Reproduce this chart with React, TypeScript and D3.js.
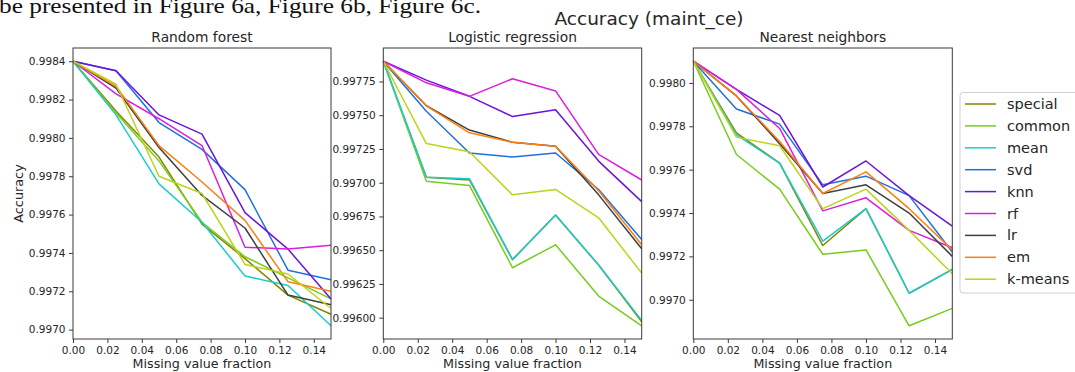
import { useRef, useEffect } from "react";
import * as d3 from "d3";

// x positions (missing value fraction) shared by all three panels
const X_FRACTIONS = [0, 0.025, 0.05, 0.075, 0.1, 0.125, 0.15];
const X_TICKS = [0, 0.02, 0.04, 0.06, 0.08, 0.1, 0.12, 0.14];

const METHODS = ["special", "common", "mean", "svd", "knn", "rf", "lr", "em", "k-means"];
const COLORS = ["#858500", "#78cc1c", "#1ccccc", "#1f6fe0", "#6a14dc", "#dc1edc", "#3f3f3f", "#ff7f0e", "#bed21c"];

// Random forest, one row per method (same order as METHODS)
const RF_VALUES = [
  [0.9984, 0.99814, 0.9979, 0.99755, 0.99737, 0.99718, 0.99708],
  [0.9984, 0.99813, 0.99788, 0.99756, 0.99738, 0.99727, 0.99716],
  [0.9984, 0.99812, 0.99776, 0.99756, 0.99728, 0.99723, 0.99702],
  [0.9984, 0.99835, 0.99808, 0.99794, 0.99773, 0.99731, 0.99726],
  [0.9984, 0.99835, 0.99812, 0.99802, 0.99761, 0.99742, 0.99716],
  [0.9984, 0.99823, 0.9981, 0.99796, 0.99743, 0.99742, 0.99744],
  [0.9984, 0.99826, 0.99795, 0.9977, 0.99753, 0.99718, 0.99713],
  [0.9984, 0.99827, 0.99796, 0.99777, 0.99757, 0.99725, 0.9972],
  [0.9984, 0.99828, 0.9978, 0.99771, 0.99734, 0.99729, 0.99711],
];
const RF_TICKS = [0.997, 0.9972, 0.9974, 0.9976, 0.9978, 0.998, 0.9982, 0.9984];

// Logistic regression
const LR_VALUES = [
  [0.9979, 0.99704, 0.99702, 0.99643, 0.99676, 0.99639, 0.99597],
  [0.9979, 0.99701, 0.99698, 0.99637, 0.99654, 0.99616, 0.99594],
  [0.9979, 0.99704, 0.99703, 0.99643, 0.99676, 0.99639, 0.99598],
  [0.9979, 0.99753, 0.99722, 0.99719, 0.99722, 0.99695, 0.99658],
  [0.9979, 0.99776, 0.99764, 0.99749, 0.99754, 0.99716, 0.99686],
  [0.9979, 0.99774, 0.99764, 0.99777, 0.99768, 0.99721, 0.99702],
  [0.9979, 0.99757, 0.99739, 0.9973, 0.99727, 0.99691, 0.99651],
  [0.9979, 0.99757, 0.99737, 0.9973, 0.99727, 0.99694, 0.99654],
  [0.9979, 0.99729, 0.99723, 0.99691, 0.99695, 0.99674, 0.99633],
];
const LR_TICKS = [0.996, 0.99625, 0.9965, 0.99675, 0.997, 0.99725, 0.9975, 0.99775];

// Nearest neighbors
const NN_VALUES = [
  [0.9981, 0.99777, 0.99763, 0.99725, 0.99742, 0.99703, 0.99714],
  [0.9981, 0.99767, 0.99751, 0.99721, 0.99723, 0.99688, 0.99696],
  [0.9981, 0.99776, 0.99763, 0.99727, 0.99742, 0.99703, 0.99714],
  [0.9981, 0.99788, 0.99781, 0.99753, 0.99757, 0.99748, 0.99722],
  [0.9981, 0.99797, 0.99785, 0.99752, 0.99764, 0.99748, 0.99734],
  [0.9981, 0.99797, 0.99779, 0.99741, 0.99747, 0.99732, 0.99724],
  [0.9981, 0.99794, 0.99772, 0.99749, 0.99753, 0.9974, 0.9972],
  [0.9981, 0.99794, 0.99773, 0.99749, 0.99759, 0.99742, 0.99723],
  [0.9981, 0.99775, 0.99771, 0.99742, 0.99751, 0.99732, 0.99712],
];
const NN_TICKS = [0.997, 0.9972, 0.9974, 0.9976, 0.9978, 0.998];

const TEXT = "#262626";
const FONT = "DejaVu Sans, sans-serif";

export default function App() {
  const svgRef = useRef<SVGSVGElement>(null);
  const W = 1075;
  const H = 372;

  useEffect(() => {
    if (!svgRef.current) return;
    const svg = d3.select(svgRef.current);
    svg.selectAll("*").remove();

    const panels = [
      { title: "Random forest", values: RF_VALUES, ticks: RF_TICKS, digits: 4, left: 73, right: 331 },
      { title: "Logistic regression", values: LR_VALUES, ticks: LR_TICKS, digits: 5, left: 383.3, right: 641.7 },
      { title: "Nearest neighbors", values: NN_VALUES, ticks: NN_TICKS, digits: 4, left: 693.3, right: 952.3 },
    ];
    const top = 48;
    const bottom = 339;

    // cropped paragraph text above the figure
    svg.append("text").attr("x", -1).attr("y", 12.5)
      .attr("font-family", "Liberation Serif, serif").attr("font-size", "21px").attr("fill", "#111")
      .attr("textLength", 482).attr("lengthAdjust", "spacingAndGlyphs")
      .text("be presented in Figure 6a, Figure 6b, Figure 6c.");

    // suptitle
    svg.append("text").attr("x", 649).attr("y", 24.5).attr("text-anchor", "middle")
      .attr("font-family", FONT).attr("font-size", "18.5px").attr("fill", TEXT)
      .text("Accuracy (maint_ce)");

    panels.forEach((p, pi) => {
      const all = p.values.flat();
      const lo = d3.min(all) ?? 0;
      const hi = d3.max(all) ?? 1;
      const pad = (hi - lo) * 0.05;
      const x = d3.scaleLinear().domain([0, 0.15]).range([p.left, p.right]);
      const y = d3.scaleLinear().domain([lo - pad, hi + pad]).range([bottom, top]);

      const g = svg.append("g");

      // lines
      const line = d3.line<number>().x((_, i) => x(X_FRACTIONS[i])).y(d => y(d));
      p.values.forEach((vals, mi) => {
        g.append("path").datum(vals)
          .attr("fill", "none").attr("stroke", COLORS[mi]).attr("stroke-width", 1.5)
          .attr("stroke-linejoin", "round").attr("d", line);
      });

      // frame
      g.append("rect").attr("x", p.left).attr("y", top)
        .attr("width", p.right - p.left).attr("height", bottom - top)
        .attr("fill", "none").attr("stroke", "#3a3a3a").attr("stroke-width", 1);

      // x axis
      const xa = g.append("g").attr("transform", `translate(0,${bottom})`)
        .call(d3.axisBottom(x).tickValues(X_TICKS).tickSize(4).tickPadding(4).tickFormat(d => (+d).toFixed(2)));
      xa.select(".domain").remove();
      xa.selectAll("line").attr("stroke", "#3a3a3a");
      xa.selectAll("text").attr("fill", TEXT).attr("font-size", "10.5px").attr("font-family", FONT);

      // y axis
      const ya = g.append("g").attr("transform", `translate(${p.left},0)`)
        .call(d3.axisLeft(y).tickValues(p.ticks).tickSize(4).tickPadding(3.5).tickFormat(d => (+d).toFixed(p.digits)));
      ya.select(".domain").remove();
      ya.selectAll("line").attr("stroke", "#3a3a3a");
      ya.selectAll("text").attr("fill", TEXT).attr("font-size", "10.5px").attr("font-family", FONT);

      // titles
      g.append("text").attr("x", (p.left + p.right) / 2).attr("y", 42)
        .attr("text-anchor", "middle").attr("font-family", FONT).attr("font-size", "13.8px").attr("fill", TEXT)
        .text(p.title);
      g.append("text").attr("x", (p.left + p.right) / 2).attr("y", 368)
        .attr("text-anchor", "middle").attr("font-family", FONT).attr("font-size", "12.7px").attr("fill", TEXT)
        .text("Missing value fraction");
      if (pi === 0) {
        g.append("text").attr("transform", `translate(22.5,${(top + bottom) / 2}) rotate(-90)`)
          .attr("text-anchor", "middle").attr("font-family", FONT).attr("font-size", "12.8px").attr("fill", TEXT)
          .text("Accuracy");
      }
    });

    // legend
    const lg = svg.append("g");
    lg.append("rect").attr("x", 960).attr("y", 92.5).attr("width", 130).attr("height", 200.5)
      .attr("rx", 3).attr("fill", "#fff").attr("stroke", "#d0d0d0").attr("stroke-width", 1);
    const rowY = d3.scaleLinear().domain([0, 1]).range([104, 125.9]);
    METHODS.forEach((m, i) => {
      const cy = rowY(i);
      lg.append("line").attr("x1", 965).attr("x2", 996).attr("y1", cy).attr("y2", cy)
        .attr("stroke", COLORS[i]).attr("stroke-width", 1.5);
      lg.append("text").attr("x", 1007).attr("y", cy + 5)
        .attr("font-family", FONT).attr("font-size", "14.5px").attr("fill", TEXT).text(m);
    });
  }, []);

  return (
    <svg ref={svgRef} width={W} height={H}
      style={{ position: "absolute", left: 0, top: 0, background: "#fff" }} />
  );
}
